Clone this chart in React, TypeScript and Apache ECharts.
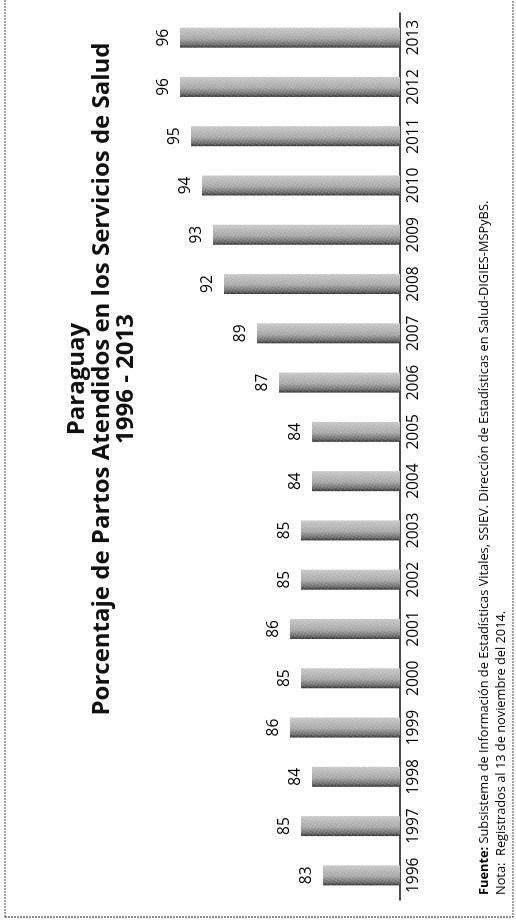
import React, { useEffect, useRef } from "react";
import * as echarts from "echarts";

const years = ["1996", "1997", "1998", "1999", "2000", "2001", "2002", "2003", "2004", "2005", "2006", "2007", "2008", "2009", "2010", "2011", "2012", "2013"];
const values = [83, 85, 84, 86, 85, 86, 85, 85, 84, 84, 87, 89, 92, 93, 94, 95, 96, 96];
const titleLines = ["Paraguay", "Porcentaje de Partos Atendidos en los Servicios de Salud", "1996 - 2013"];
const sourceText = "Subsistema de Información de Estadísticas Vitales, SSIEV. Dirección de Estadísticas en Salud-DIGIES-MSPyBS.";
const noteText = "Registrados al 13 de noviembre del 2014.";

const FONT = "'Open Sans', 'Noto Sans', sans-serif";

export default function App() {
  const ref = useRef<HTMLDivElement>(null);
  useEffect(() => {
    document.body.style.margin = "0";
    document.body.style.overflow = "hidden";
    if (!ref.current) return;
    const chart = echarts.init(ref.current, undefined, { renderer: "svg" });
    const titleY = [74, 99, 123];
    chart.setOption({
      animation: false,
      backgroundColor: "#ffffff",
      grid: { left: 24, right: 13, top: 136, bottom: 116 },
      xAxis: {
        type: "category",
        data: years,
        axisLine: { show: true, lineStyle: { color: "#111", width: 1.5 } },
        axisTick: { show: false },
        axisLabel: { color: "#000", fontSize: 15.5, fontFamily: FONT, margin: 4 },
      },
      yAxis: {
        type: "value",
        min: 76,
        max: 100,
        show: false,
        splitLine: { show: false },
      },
      series: [
        {
          type: "bar",
          data: values,
          barWidth: 20,
          itemStyle: {
            color: new echarts.graphic.LinearGradient(0, 0, 1, 0, [
              { offset: 0, color: "#2a2a2a" },
              { offset: 0.15, color: "#666" },
              { offset: 0.45, color: "#a4a4a4" },
              { offset: 1, color: "#c6c6c6" },
            ]),
            decal: {
              symbol: "circle",
              symbolSize: 0.7,
              color: "rgba(255,255,255,0.45)",
              dashArrayX: [2, 1],
              dashArrayY: [2, 1],
              rotation: 0.5,
            },
          },
          label: {
            show: true,
            position: "top",
            distance: 10,
            color: "#000",
            fontSize: 15.5,
            fontFamily: FONT,
          },
        },
      ],
      graphic: [
        {
          type: "rect",
          shape: { x: 7, y: 5, width: 930, height: 508 },
          style: { fill: "none", stroke: "#444", lineWidth: 1.2, lineDash: [2, 1] },
          silent: true,
        },
        ...titleLines.map((t, i) => ({
          type: "text",
          x: 545,
          y: titleY[i],
          style: {
            text: t,
            fill: "#111",
            fontSize: 24,
            fontWeight: "bold",
            fontFamily: FONT,
            align: "center",
            verticalAlign: "middle",
          },
        })),
        {
          type: "text",
          x: 29,
          y: 483,
          style: {
            text: "{b|Fuente:} " + sourceText,
            fill: "#000",
            fontSize: 12.8,
            fontFamily: FONT,
            align: "left",
            verticalAlign: "middle",
            rich: { b: { fontWeight: "bold", fontSize: 12.8, fontFamily: FONT, fill: "#000" } },
          },
        },
        {
          type: "text",
          x: 29,
          y: 500,
          style: {
            text: "Nota:  " + noteText,
            fill: "#000",
            fontSize: 12.8,
            fontFamily: FONT,
            align: "left",
            verticalAlign: "middle",
          },
        },
      ],
    });
    return () => chart.dispose();
  }, []);
  return (
    <div
      ref={ref}
      style={{
        position: "fixed",
        left: 0,
        top: 0,
        width: 924,
        height: 516,
        transformOrigin: "0 0",
        transform: "translateY(924px) rotate(-90deg)",
      }}
    />
  );
}
